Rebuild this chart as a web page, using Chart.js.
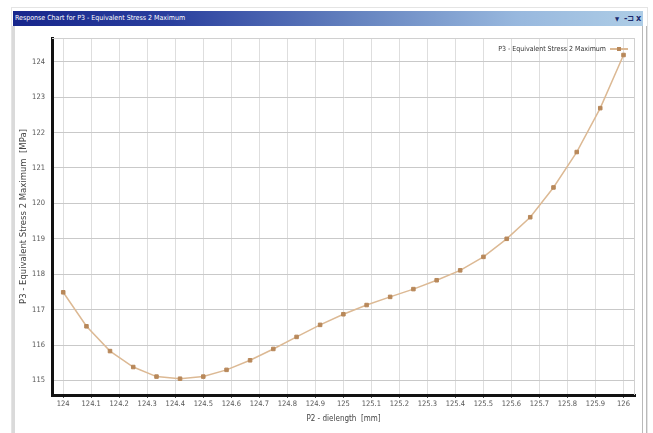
<!DOCTYPE html>
<html>
<head>
<meta charset="utf-8">
<script src="https://cdn.jsdelivr.net/npm/chart.js@4"></script>
<style>
  body { margin: 0; width: 653px; height: 433px; background: #fff; overflow: hidden; position: relative; font-family: 'Liberation Sans Narrow', 'DejaVu Sans Condensed', 'Liberation Sans', sans-serif; }
  .win { position: absolute; left: 11px; top: 7px; width: 635px; height: 430px; border: 1px solid #e4e4e4; border-bottom: none; }
  .barra { position: absolute; left: 13px; top: 11px; width: 630px; height: 15px;
    background: linear-gradient(to right, #17268c 0%, #2a3f9e 25%, #6684c0 55%, #98b8de 80%, #aecde6 100%); }
  .barra .titulo { position: absolute; left: 2px; top: 1px; color: #fff; font-size: 7px; line-height: 13px; white-space: nowrap; }
  .barra .icone { position: absolute; top: 0; color: #1b2a6e; font-size: 9px; line-height: 15px; font-weight: bold; }
  .borda-esq { position: absolute; left: 12px; top: 26px; width: 3px; height: 407px; background: #dadada; }
  .borda-dir1 { position: absolute; left: 642px; top: 26px; width: 1px; height: 407px; background: #b9b9b9; }
  .borda-dir2 { position: absolute; left: 646px; top: 26px; width: 1px; height: 407px; background: #b9b9b9; }
  canvas { position: absolute; left: 0; top: 0; }
</style>
</head>
<body>
<div class="win"></div>
<div class="barra">
  <span class="titulo">Response Chart for P3 - Equivalent Stress 2 Maximum</span>
  <span class="icone" style="left:602px;font-size:6px;">▼</span>
  <span class="icone" style="left:611px;">-⊐</span>
  <span class="icone" style="left:623px;">x</span>
</div>
<div class="borda-esq"></div>
<div class="borda-dir1"></div>
<div class="borda-dir2"></div>
<canvas id="grafico" width="653" height="433"></canvas>
<script>
const nomeSerie = "P3 - Equivalent Stress 2 Maximum";
const tituloX = "P2 - dielength  [mm]";
const tituloY = "P3 - Equivalent Stress 2 Maximum  [MPa]";

// P2 - dielength (mm)
const dielength = [124, 124.083, 124.167, 124.25, 124.333, 124.417, 124.5, 124.583, 124.667, 124.75,
  124.833, 124.917, 125, 125.083, 125.167, 125.25, 125.333, 125.417, 125.5, 125.583,
  125.667, 125.75, 125.833, 125.917, 126];

// P3 - Equivalent Stress 2 Maximum (MPa)
const tensao = [117.49, 116.53, 115.83, 115.38, 115.11, 115.05, 115.11, 115.30, 115.57, 115.89,
  116.23, 116.57, 116.87, 117.13, 117.36, 117.58, 117.83, 118.11, 118.49, 119.00,
  119.61, 120.45, 121.45, 122.69, 124.19];

const rotulosX = ["124", "124.1", "124.2", "124.3", "124.4", "124.5", "124.6", "124.7", "124.8", "124.9",
  "125", "125.1", "125.2", "125.3", "125.4", "125.5", "125.6", "125.7", "125.8", "125.9", "126"];
const rotulosY = ["115", "116", "117", "118", "119", "120", "121", "122", "123", "124"];

const fonteEstreita = "'Liberation Sans Narrow', 'DejaVu Sans Condensed', 'Liberation Sans', sans-serif";
const corLinha = "#dcb994";
const corPonto = "#b8885a";

// moldura do topo e da direita + legenda dentro da área
const molduraLegenda = {
  id: "molduraLegenda",
  beforeDatasetsDraw(chart) {
    const { ctx, chartArea: a } = chart;
    ctx.save();
    ctx.strokeStyle = "#d0d0d0";
    ctx.lineWidth = 1;
    ctx.beginPath();
    ctx.moveTo(a.left, a.top + 0.5);
    ctx.lineTo(a.right, a.top + 0.5);
    ctx.moveTo(a.right - 0.5, a.top);
    ctx.lineTo(a.right - 0.5, a.bottom);
    ctx.stroke();
    ctx.restore();
  },
  afterDraw(chart) {
    const { ctx, chartArea: a } = chart;
    const y = a.top + 11;
    ctx.save();
    ctx.font = "7px " + fonteEstreita;
    ctx.fillStyle = "#333";
    ctx.textAlign = "right";
    ctx.textBaseline = "middle";
    ctx.fillText(nomeSerie, a.right - 29, y);
    ctx.strokeStyle = corLinha;
    ctx.lineWidth = 2;
    ctx.beginPath();
    ctx.moveTo(a.right - 25, y);
    ctx.lineTo(a.right - 7, y);
    ctx.stroke();
    ctx.fillStyle = corPonto;
    ctx.fillRect(a.right - 18, y - 2, 4, 4);
    ctx.restore();
  }
};

const ctx = document.getElementById("grafico").getContext("2d");

window.grafico = new Chart(ctx, {
  type: "line",
  data: {
    datasets: [{
      label: nomeSerie,
      data: dielength.map((x, i) => ({ x: x, y: tensao[i] })),
      borderColor: corLinha,
      borderWidth: 1.5,
      tension: 0,
      pointStyle: "rect",
      pointRadius: 2.5,
      pointBackgroundColor: corPonto,
      pointBorderColor: corPonto,
      pointBorderWidth: 1,
      fill: false
    }]
  },
  options: {
    responsive: false,
    devicePixelRatio: 1,
    animation: false,
    layout: { padding: { left: 16, top: 38, right: 18, bottom: 0 } },
    plugins: {
      legend: { display: false },
      tooltip: { enabled: false }
    },
    scales: {
      x: {
        type: "linear",
        min: 123.96,
        max: 126.041,
        afterBuildTicks: (s) => { s.ticks = rotulosX.map(t => ({ value: Number(t) })); },
        afterFit: (s) => { s.height = 38; },
        grid: { color: "#dedede", lineWidth: 1, drawTicks: true, tickLength: 3, tickColor: "#555" },
        border: { color: "#111", width: 3 },
        ticks: {
          autoSkip: false, maxRotation: 0, padding: 2, color: "#555",
          font: { family: fonteEstreita, size: 7.5 },
          callback: (v, i) => rotulosX[i]
        },
        title: {
          display: true, text: tituloX, color: "#444",
          font: { family: fonteEstreita, size: 8 },
          padding: { top: 0, bottom: 9 }
        }
      },
      y: {
        type: "linear",
        min: 114.59,
        max: 124.67,
        afterBuildTicks: (s) => { s.ticks = rotulosY.map(t => ({ value: Number(t) })); },
        afterFit: (s) => { s.width = 36; },
        grid: { color: "#c9c9c9", lineWidth: 1, drawTicks: false },
        border: { color: "#111", width: 3 },
        ticks: {
          padding: 7, color: "#555",
          font: { family: fonteEstreita, size: 7.5 },
          callback: (v, i) => rotulosY[i]
        },
        title: {
          display: true, text: tituloY, color: "#444",
          font: { family: "'DejaVu Sans', sans-serif", size: 8.5 },
          padding: { top: 3, bottom: 0 }
        }
      }
    }
  },
  plugins: [molduraLegenda]
});
</script>
</body>
</html>
